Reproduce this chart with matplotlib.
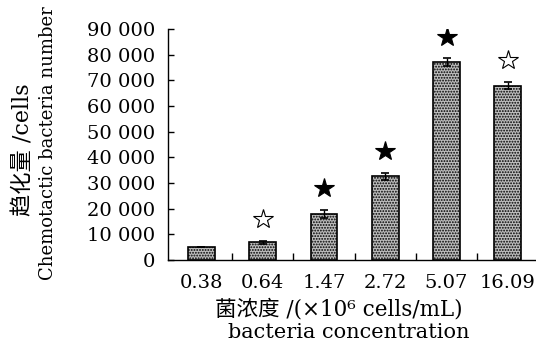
import numpy as np
import matplotlib.pyplot as plt

# bacteria concentration groups and chemotaxis counts
conc_labels = ['0.38', '0.64', '1.47', '2.72', '5.07', '16.09']
counts = [5200, 6900, 18000, 32500, 77000, 67900]
errors = [0, 600, 1500, 1400, 1500, 1400]
# significance marks: 'filled', 'hollow' or None
marks = [None, 'hollow', 'filled', 'filled', 'filled', 'hollow']
yticks = [0, 10000, 20000, 30000, 40000, 50000, 60000, 70000, 80000, 90000]

plt.rcParams['font.family'] = ['DejaVu Serif', 'Noto Sans CJK SC']
plt.rcParams['hatch.linewidth'] = 0.9

fig = plt.figure(figsize=(5.36, 3.57), dpi=100)
ax = fig.add_axes([0.313, 0.272, 0.687, 0.647])

x = np.arange(len(counts))
ax.bar(x, counts, width=0.44, facecolor='#bdbdbd', edgecolor='black',
       hatch='......', linewidth=1.2, zorder=2)
ax.errorbar(x, counts, yerr=errors, fmt='none', ecolor='black',
            elinewidth=1.0, capsize=3, capthick=1.2, zorder=3)

# stars above the error bars
for xi, c, e, m in zip(x, counts, errors, marks):
    if m is None:
        continue
    face = 'black' if m == 'filled' else 'white'
    ax.plot(xi, c + e + 8500, marker='*', ms=15, mfc=face, mec='black',
            mew=0.8, zorder=4)

ax.set_xlim(-0.55, 5.46)
ax.set_ylim(0, 90000)
ax.set_yticks(yticks)
ax.set_yticklabels([f'{v:,}'.replace(',', ' ') for v in yticks])
ax.set_xticks(x)
ax.set_xticklabels(conc_labels)
ax.set_xticks(x[:-1] + 0.5, minor=True)

ax.tick_params(axis='y', direction='in', length=4, width=1, pad=9,
               labelsize=14)
ax.tick_params(axis='x', which='major', length=0, pad=10, labelsize=14)
ax.tick_params(axis='x', which='minor', direction='in', length=5, width=1)

for s in ['top', 'right']:
    ax.spines[s].set_visible(False)
for s in ['left', 'bottom']:
    ax.spines[s].set_linewidth(1.0)

fig.text(0.043, 0.58, '趋化量 /cells', rotation=90, ha='center',
         va='center', fontsize=16)
fig.text(0.09, 0.60, 'Chemotactic bacteria number', rotation=90,
         ha='center', va='center', fontsize=13)
fig.text(0.633, 0.134, '菌浓度 /(×10⁶ cells/mL)', ha='center', va='center',
         fontsize=15.5)
fig.text(0.651, 0.068, 'bacteria concentration', ha='center', va='center',
         fontsize=15)

fig.savefig('out.png', dpi=100)
